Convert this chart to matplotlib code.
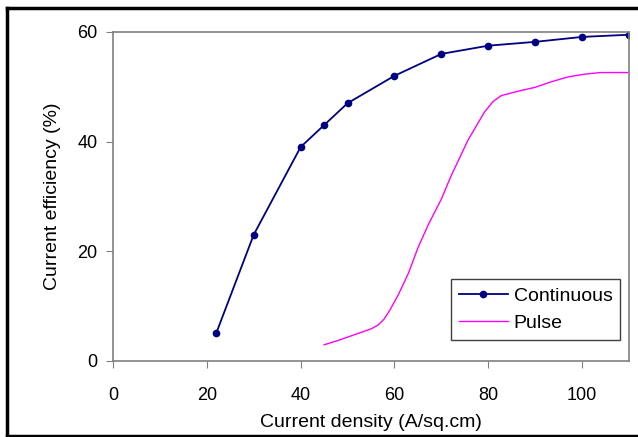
import matplotlib
matplotlib.use("Agg")
import matplotlib.pyplot as plt
from matplotlib.lines import Line2D

plt.rcParams['font.family'] = ['Liberation Sans', 'DejaVu Sans']

# Continuous current: measured points
cont_x = [22, 30, 40, 45, 50, 60, 70, 80, 90, 100, 110]
cont_y = [5, 23, 39, 43, 47, 52, 56, 57.5, 58.2, 59.1, 59.5]

# Pulse current
pulse_x = [45, 48, 52, 55, 56.5, 57.8, 59, 60.8, 63, 65, 67.2, 70, 72, 75.7, 79.2, 81, 82.8, 86.4, 90, 93.4, 97, 100.5, 104, 110]
pulse_y = [2.9, 3.7, 4.9, 5.8, 6.5, 7.6, 9.2, 12, 16, 20.6, 24.8, 29.5, 33.6, 40.3, 45.4, 47.3, 48.4, 49.2, 49.9, 50.9, 51.8, 52.3, 52.6, 52.6]

fig = plt.figure(figsize=(6.38, 4.37), dpi=100)
ax = fig.add_axes([0.1771, 0.1746, 0.8088, 0.7522])

ax.plot(cont_x, cont_y, color='#000080', lw=1.3, marker='o', ms=4.5, label='Continuous')
ax.plot(pulse_x, pulse_y, color='#ff00ff', lw=1.0, label='Pulse')

ax.set_xlim(0, 110)
ax.set_ylim(0, 60)
ax.set_xticks([0, 20, 40, 60, 80, 100])
ax.set_yticks([0, 20, 40, 60])
ax.tick_params(direction='out', length=5, color='#808080', labelsize=13, pad=6)
ax.tick_params(axis='x', pad=14)
for s in ax.spines.values():
    s.set_color('#808080')
    s.set_linewidth(1.2)

ax.set_xlabel('Current density (A/sq.cm)', fontsize=14, labelpad=7)
ax.set_ylabel('Current efficiency (%)', fontsize=14, labelpad=12)

leg = ax.legend(loc='lower right', bbox_to_anchor=(0.983, 0.063), fontsize=14,
                fancybox=False, framealpha=1, edgecolor='#404040',
                handlelength=2.5, borderaxespad=0, handletextpad=0.3)
leg.get_frame().set_linewidth(1.0)

# black frame round the picture (left, top, bottom)
fig.add_artist(Line2D([0.0102, 0.0102], [0.0, 0.982], color='black', lw=2.5, transform=fig.transFigure))
fig.add_artist(Line2D([0.0102, 1.0], [0.982, 0.982], color='black', lw=2.5, transform=fig.transFigure))
fig.add_artist(Line2D([0.0102, 1.0], [0.003, 0.003], color='black', lw=2.5, transform=fig.transFigure))

fig.savefig('out.png', dpi=100)
